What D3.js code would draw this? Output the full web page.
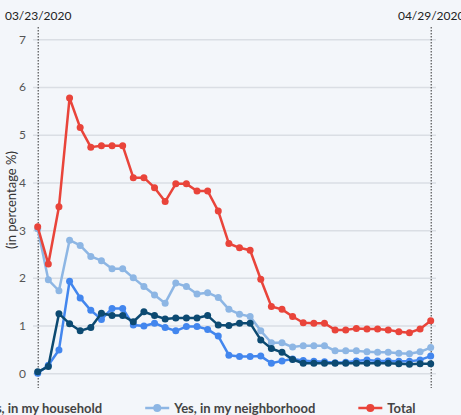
<!DOCTYPE html>
<html>
<head>
<meta charset="utf-8">
<script src="https://cdn.jsdelivr.net/npm/d3@7"></script>
<style>
  html, body { margin: 0; padding: 0; background: #f3f6fa; }
  body { width: 461px; height: 415px; overflow: hidden; font-family: Lato, sans-serif; }
</style>
</head>
<body>
<div id="chart"></div>
<script>
// Period covered by the chart (one point per day)
const startDate = "03/23/2020";
const endDate = "04/29/2020";

// Values, in percent
const total = [3.07, 2.29, 3.49, 5.77, 5.15, 4.74, 4.77, 4.77, 4.77, 4.10, 4.10, 3.89, 3.60, 3.97, 3.97, 3.82, 3.82, 3.40, 2.72, 2.63,
               2.58, 1.97, 1.40, 1.34, 1.19, 1.06, 1.05, 1.05, 0.91, 0.91, 0.94, 0.93, 0.93, 0.91, 0.87, 0.85, 0.93, 1.10];
const neighborhood = [3.03, 1.96, 1.73, 2.79, 2.68, 2.45, 2.36, 2.19, 2.19, 2.00, 1.82, 1.64, 1.47, 1.89, 1.82, 1.66, 1.69, 1.59, 1.34, 1.24,
                      1.19, 0.89, 0.64, 0.64, 0.55, 0.58, 0.58, 0.58, 0.47, 0.47, 0.47, 0.45, 0.44, 0.44, 0.42, 0.41, 0.45, 0.54];
const household = [0.00, 0.17, 0.49, 1.93, 1.58, 1.32, 1.13, 1.36, 1.36, 1.01, 0.99, 1.05, 0.96, 0.89, 0.98, 0.98, 0.92, 0.78, 0.38, 0.35,
                   0.35, 0.36, 0.21, 0.26, 0.30, 0.27, 0.25, 0.24, 0.22, 0.23, 0.26, 0.28, 0.26, 0.26, 0.25, 0.25, 0.28, 0.36];
// Fourth series (its legend entry is outside the visible area)
const otherGroup = [0.03, 0.14, 1.25, 1.04, 0.89, 0.96, 1.26, 1.21, 1.21, 1.08, 1.29, 1.21, 1.14, 1.16, 1.16, 1.16, 1.21, 1.01, 1.00, 1.05,
                    1.05, 0.70, 0.52, 0.44, 0.29, 0.21, 0.21, 0.21, 0.21, 0.21, 0.21, 0.21, 0.21, 0.21, 0.20, 0.19, 0.20, 0.20];

const yTicks = [0, 1, 2, 3, 4, 5, 6, 7];
const legendNames = ["Yes, in my household", "Yes, in my neighborhood", "Total"];

const parseDate = d3.timeParse("%m/%d/%Y");
const days = d3.timeDay.range(parseDate(startDate), d3.timeDay.offset(parseDate(endDate), 1));

// Series in drawing order (red on top)
const series = [
    { name: "Yes, in my neighborhood", values: neighborhood, color: "#8db6e4" },
    { name: "Yes, in my household", values: household, color: "#4286ee" },
    { name: "other", values: otherGroup, color: "#0c4a72" },
    { name: "Total", values: total, color: "#e9443a" }
];

const W = 461, H = 415;
const svg = d3.select("#chart").append("svg")
    .attr("width", W)
    .attr("height", H)
    .style("display", "block");

const x = d3.scaleTime()
    .domain([parseDate(startDate), parseDate(endDate)])
    .range([37.7, 430.7]);

const y = d3.scaleLinear()
    .domain([0, 7])
    .range([373.3, 39.3]);

// Y axis with horizontal gridlines
const gridLeft = 33, gridRight = 436;
const yAxis = svg.append("g")
    .attr("transform", `translate(${gridLeft},0)`)
    .call(d3.axisLeft(y).tickValues(yTicks).tickSize(-(gridRight - gridLeft)).tickPadding(7).tickFormat(d3.format("d")));
yAxis.select(".domain").remove();
yAxis.selectAll(".tick line").attr("stroke", "#dadee4").attr("stroke-width", 1.5);
yAxis.selectAll(".tick text")
    .attr("fill", "#555")
    .style("font-family", "Lato, sans-serif")
    .style("font-size", "12px");

// Y axis label
svg.append("text")
    .attr("transform", "rotate(-90)")
    .attr("x", -200)
    .attr("y", 16)
    .attr("text-anchor", "middle")
    .attr("fill", "#333")
    .style("font-size", "13px")
    .text("(in percentage %)");

// Top axis: dotted lines at first and last date
const xAxis = svg.append("g")
    .attr("transform", "translate(0,27)")
    .call(d3.axisTop(x)
        .tickValues([parseDate(startDate), parseDate(endDate)])
        .tickSize(-(388 - 27))
        .tickPadding(7)
        .tickFormat(d3.timeFormat("%m/%d/%Y")));
xAxis.select(".domain").remove();
xAxis.selectAll(".tick line")
    .attr("stroke", "#333")
    .attr("stroke-dasharray", "1.5,1.5");
xAxis.selectAll(".tick text")
    .attr("fill", "#222")
    .style("font-family", "Lato, sans-serif")
    .style("font-size", "12px");

// Lines and points
const line = d3.line()
    .x((d, i) => x(days[i]))
    .y(d => y(d));

series.forEach(s => {
    const g = svg.append("g");
    g.append("path")
        .datum(s.values)
        .attr("fill", "none")
        .attr("stroke", s.color)
        .attr("stroke-width", 2.5)
        .attr("stroke-linejoin", "round")
        .attr("d", line);
    g.selectAll("circle")
        .data(s.values)
        .enter()
        .append("circle")
        .attr("cx", (d, i) => x(days[i]))
        .attr("cy", d => y(d))
        .attr("r", 3.5)
        .attr("fill", s.color);
});

// Legend (first entry is cut by the left edge, as in the original)
const legend = svg.append("g").attr("transform", "translate(-47,408)");
const colorOf = name => series.find(s => s.name === name).color;
let lx = 0;
legendNames.forEach(name => {
    const item = legend.append("g").attr("transform", `translate(${lx},0)`);
    item.append("line")
        .attr("x1", 0).attr("x2", 24)
        .attr("y1", 0).attr("y2", 0)
        .attr("stroke", colorOf(name))
        .attr("stroke-width", 2.5);
    item.append("circle")
        .attr("cx", 12).attr("cy", 0).attr("r", 4)
        .attr("fill", colorOf(name));
    const t = item.append("text")
        .attr("x", 29)
        .attr("y", 0)
        .attr("dy", "0.35em")
        .attr("fill", "#444")
        .style("font-size", "13px")
        .style("font-weight", "700")
        .text(name);
    lx += 29 + t.node().getComputedTextLength() + 43;
});
</script>
</body>
</html>
